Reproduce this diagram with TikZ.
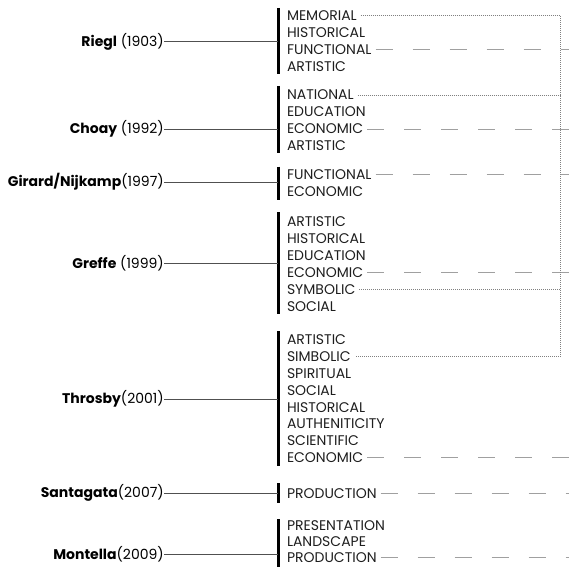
\documentclass[tikz,border=0pt]{standalone}
\usepackage{fontspec}
\setmainfont{Poppins}
\usepackage{xcolor}
\usepackage{tikz}
\usetikzlibrary{positioning}
\definecolor{fgtext}{HTML}{1E1E1E}
\definecolor{fglink}{HTML}{505050}
\definecolor{fgdash}{HTML}{A0A0A0}
\definecolor{fgdot}{HTML}{808080}

\begin{document}
\begin{tikzpicture}[
        x=1pt, y=-1pt,
        author/.style={
            anchor=east,
            inner sep=0pt,
            text=black,
            font=\fontsize{14}{16}\selectfont
        },
        item/.style={
            anchor=west,
            inner sep=0pt,
            outer xsep=4pt,
            text=fgtext,
            font=\fontsize{14}{16}\selectfont
        },
        bar/.style={
            line width=3pt,
            black
        },
        link/.style={
            fglink,
            line width=0.9pt
        },
        dashline/.style={
            fgdash,
            line width=1pt,
            dash pattern=on 17pt off 20pt
        },
        dotline/.style={
            fgdot,
            line width=0.8pt,
            dash pattern=on 0.8pt off 1.2pt
        }
    ]
        \useasboundingbox (0,0) rectangle (569,567);
        \coordinate (edge) at (569,0);
        \coordinate (dotcol) at (560,0);

        % Riegl
        \node[author] (riegl) at (164,41.5) {\textbf{Riegl} (1903)};
        \coordinate (rieglbar) at (278,41.5);
        \draw[bar] (278,8) -- (278,74);
        \draw[link] (riegl) -- (rieglbar);
        \foreach \w [count=\i] in {MEMORIAL,HISTORICAL,FUNCTIONAL,ARTISTIC}
            \node[item] (riegl\i) at (283,{15.7+17*(\i-1)}) {\w};

        % Choay
        \node[author] (choay) at (164,129) {\textbf{Choay} (1992)};
        \coordinate (choaybar) at (278,129);
        \draw[bar] (278,86) -- (278,153);
        \draw[link] (choay) -- (choaybar);
        \foreach \w [count=\i] in {NATIONAL,EDUCATION,ECONOMIC,ARTISTIC}
            \node[item] (choay\i) at (283,{95+17*(\i-1)}) {\w};

        % Girard/Nijkamp
        \node[author] (girard) at (164,182) {\textbf{Girard/Nijkamp}(1997)};
        \coordinate (girardbar) at (278,182);
        \draw[bar] (278,166.5) -- (278,200);
        \draw[link] (girard) -- (girardbar);
        \foreach \w [count=\i] in {FUNCTIONAL,ECONOMIC}
            \node[item] (girard\i) at (283,{174.5+17*(\i-1)}) {\w};

        % Greffe
        \node[author] (greffe) at (164,263) {\textbf{Greffe} (1999)};
        \coordinate (greffebar) at (278,263);
        \draw[bar] (278,212) -- (278,314);
        \draw[link] (greffe) -- (greffebar);
        \foreach \w [count=\i] in {ARTISTIC,HISTORICAL,EDUCATION,ECONOMIC,SYMBOLIC,SOCIAL}
            \node[item] (greffe\i) at (283,{221.7+17*(\i-1)}) {\w};

        % Throsby
        \node[author] (throsby) at (164,399) {\textbf{Throsby}(2001)};
        \coordinate (throsbybar) at (278,399);
        \draw[bar] (278,331) -- (278,466);
        \draw[link] (throsby) -- (throsbybar);
        \foreach \w [count=\i] in {ARTISTIC,SIMBOLIC,SPIRITUAL,SOCIAL,HISTORICAL,AUTHENITICITY,SCIENTIFIC,ECONOMIC}
            \node[item] (throsby\i) at (283,{340+16.8*(\i-1)}) {\w};

        % Santagata
        \node[author] (santagata) at (164,493) {\textbf{Santagata}(2007)};
        \coordinate (santagatabar) at (278,493);
        \draw[bar] (278,483) -- (278,503);
        \draw[link] (santagata) -- (santagatabar);
        \node[item] (santagata1) at (283,493.3) {PRODUCTION};

        % Montella
        \node[author] (montella) at (164,554) {\textbf{Montella}(2009)};
        \coordinate (montellabar) at (278,554);
        \draw[bar] (278,519) -- (278,567);
        \draw[link] (montella) -- (montellabar);
        \foreach \w [count=\i] in {PRESENTATION,LANDSCAPE,PRODUCTION}
            \node[item] (montella\i) at (283,{525.5+16*(\i-1)}) {\w};

        % dashed links to the right edge
        \foreach \n in {riegl3,choay3,girard1,greffe4,throsby8,santagata1,montella3}
            \draw[dashline] (\n) -- (\n -| edge);

        % dotted bracket
        \draw[dotline] (riegl1) -- (riegl1 -| dotcol) -- (throsby2 -| dotcol) -- (throsby2);
        \draw[dotline] (choay1) -- (choay1 -| dotcol);
        \draw[dotline] (greffe5) -- (greffe5 -| dotcol);
    \end{tikzpicture}
\end{document}
